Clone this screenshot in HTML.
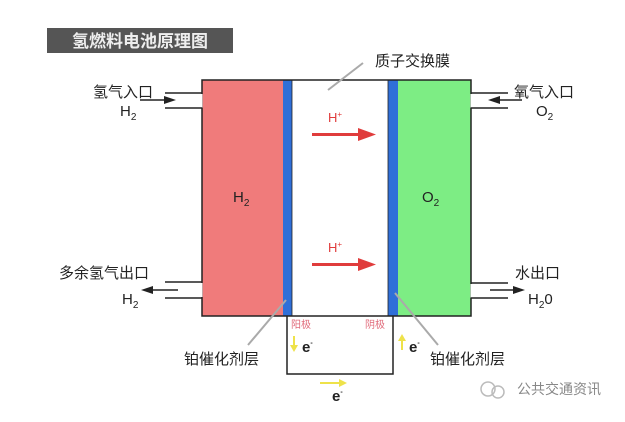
<!DOCTYPE html>
<html><head><meta charset="utf-8"><style>
body{margin:0;background:#fff}
svg text{font-family:"Liberation Sans","Noto Sans CJK SC",sans-serif}
</style></head><body>
<svg width="625" height="417" viewBox="0 0 625 417" xmlns="http://www.w3.org/2000/svg">
<rect width="625" height="417" fill="#fff"/>
<rect x="47" y="28" width="186" height="25" fill="#555"/>
<text x="140" y="47" font-size="17" fill="#eee" text-anchor="middle" font-weight="bold">氢燃料电池原理图</text>
<rect x="202" y="80" width="81" height="236" fill="#f07b7b"/>
<rect x="283" y="80" width="9" height="236" fill="#2f6fd8"/>
<rect x="388" y="80" width="10" height="236" fill="#2f6fd8"/>
<rect x="398" y="80" width="73" height="236" fill="#7ded84"/>
<rect x="202" y="80" width="269" height="236" fill="none" stroke="#222" stroke-width="1.5"/>
<line x1="292" y1="80" x2="292" y2="316" stroke="#222" stroke-width="0.8"/>
<line x1="388" y1="80" x2="388" y2="316" stroke="#222" stroke-width="0.8"/>
<rect x="199" y="94" width="3.5" height="13.5" fill="#fff"/>
<rect x="199" y="283" width="3.5" height="14" fill="#fff"/>
<rect x="470.5" y="94" width="3.5" height="13.5" fill="#fff"/>
<rect x="470.5" y="284" width="3.5" height="13.5" fill="#fff"/>
<g stroke="#222" stroke-width="1.5">
<line x1="165" y1="93" x2="202" y2="93"/><line x1="165" y1="108" x2="202" y2="108"/>
<line x1="165" y1="282" x2="202" y2="282"/><line x1="165" y1="298" x2="202" y2="298"/>
<line x1="471" y1="93" x2="508" y2="93"/><line x1="471" y1="108" x2="508" y2="108"/>
<line x1="471" y1="283" x2="508" y2="283"/><line x1="471" y1="298" x2="508" y2="298"/>
<line x1="140" y1="100" x2="168" y2="100"/>
<line x1="150" y1="290" x2="178" y2="290"/>
<line x1="495" y1="100" x2="522" y2="100"/>
<line x1="490" y1="290" x2="515" y2="290"/>
</g>
<g fill="#222">
<polygon points="176,100 164,96 164,104"/>
<polygon points="141,290 153,286 153,294"/>
<polygon points="488,100 500,96 500,104"/>
<polygon points="525,290 513,286 513,294"/>
</g>
<g font-size="15" fill="#222">
<text x="93" y="97">氢气入口</text>
<text x="120" y="116">H<tspan font-size="10" dy="4">2</tspan></text>
<text x="59" y="278">多余氢气出口</text>
<text x="122" y="304">H<tspan font-size="10" dy="4">2</tspan></text>
<text x="514" y="97">氧气入口</text>
<text x="536" y="116">O<tspan font-size="10" dy="4">2</tspan></text>
<text x="515" y="278">水出口</text>
<text x="528" y="304">H<tspan font-size="10" dy="4">2</tspan><tspan dy="-4">0</tspan></text>
<text x="375" y="66">质子交换膜</text>
<text x="184" y="364">铂催化剂层</text>
<text x="430" y="364">铂催化剂层</text>
<text x="233" y="202">H<tspan font-size="10" dy="4">2</tspan></text>
<text x="422" y="202">O<tspan font-size="10" dy="4">2</tspan></text>
</g>
<g stroke="#aaa" stroke-width="2">
<line x1="328" y1="90" x2="363" y2="63"/>
<line x1="286" y1="300" x2="248" y2="345"/>
<line x1="395" y1="293" x2="438" y2="345"/>
</g>
<g fill="#e03c3c">
<text x="328" y="122" font-size="13">H<tspan font-size="8" dy="-5">+</tspan></text>
<text x="328" y="252" font-size="13">H<tspan font-size="8" dy="-5">+</tspan></text>
<rect x="312" y="133" width="50" height="3"/><polygon points="376,134.5 358,128 358,141"/>
<rect x="312" y="263" width="50" height="3"/><polygon points="376,264.5 358,258 358,271"/>
</g>
<path d="M287 316 V374 H393 V316" fill="none" stroke="#222" stroke-width="1.5"/>
<text x="291" y="328" font-size="10" fill="#e06a7a">阳极</text>
<text x="365" y="328" font-size="10" fill="#e06a7a">阴极</text>
<g fill="#eee24a">
<rect x="293" y="336" width="2" height="12"/><polygon points="294,352 290,345 298,345"/>
<rect x="401" y="338" width="2" height="12"/><polygon points="402,334 398,341 406,341"/>
<rect x="320" y="382" width="20" height="2"/><polygon points="347,383 339,379 339,387"/>
</g>
<g font-size="15" font-weight="bold" fill="#222">
<text x="302" y="352">e<tspan font-size="7" dy="-7">-</tspan></text>
<text x="409" y="352">e<tspan font-size="7" dy="-7">-</tspan></text>
<text x="332" y="401">e<tspan font-size="7" dy="-7">-</tspan></text>
</g>
<circle cx="488" cy="389" r="7" fill="none" stroke="#bbb" stroke-width="1.5"/>
<circle cx="498" cy="392" r="6" fill="none" stroke="#bbb" stroke-width="1.5"/>
<text x="517" y="394" font-size="14" fill="#888">公共交通资讯</text>
</svg>
</body></html>
